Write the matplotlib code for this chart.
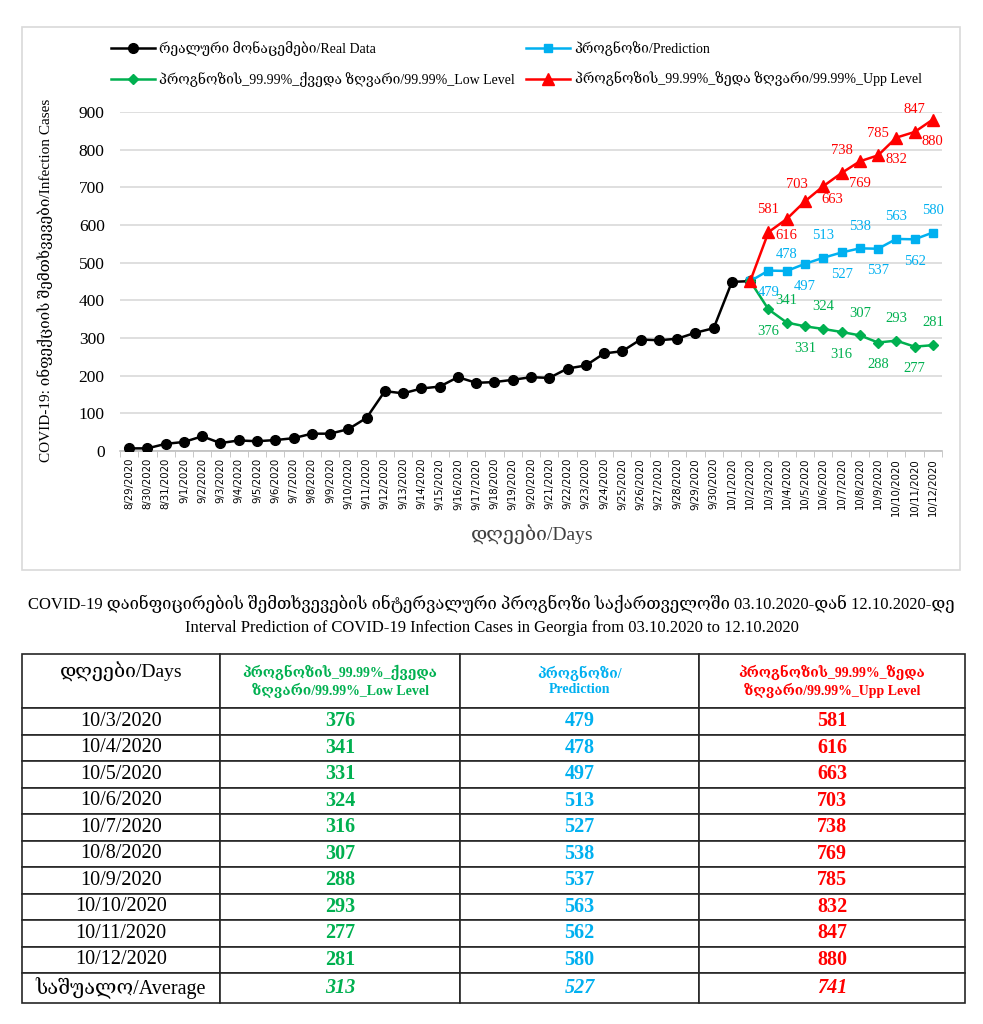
import matplotlib
matplotlib.use("Agg")
import matplotlib.pyplot as plt
from matplotlib.patches import Rectangle
import numpy as np

plt.rcParams["font.family"] = ["Liberation Serif", "DejaVu Serif", "DejaVu Sans"]

# ---- data ----
dates = (["8/29/2020", "8/30/2020", "8/31/2020"]
         + [f"9/{d}/2020" for d in range(1, 31)]
         + [f"10/{d}/2020" for d in range(1, 13)])

real_data = [7, 7, 19, 24, 39, 21, 28, 26, 29, 34, 46, 46, 58, 88, 159, 153, 166,
             171, 196, 181, 183, 189, 196, 194, 219, 227, 259, 265, 296, 294, 298,
             314, 326, 449, 451]

forecast_days = [f"10/{d}/2020" for d in range(3, 13)]
low_level = [376, 341, 331, 324, 316, 307, 288, 293, 277, 281]
prediction = [479, 478, 497, 513, 527, 538, 537, 563, 562, 580]
upp_level = [581, 616, 663, 703, 738, 769, 785, 832, 847, 880]
averages = [313, 527, 741]

label_real = "რეალური მონაცემები/Real Data"
label_pred = "პროგნოზი/Prediction"
label_low = "პროგნოზის_99.99%_ქვედა ზღვარი/99.99%_Low Level"
label_upp = "პროგნოზის_99.99%_ზედა ზღვარი/99.99%_Upp Level"

c_black = "#000000"
c_blue = "#00B0F0"
c_green = "#00B050"
c_red = "#FF0000"

W, H = 983, 1024
fig = plt.figure(figsize=(W / 100, H / 100), dpi=100)

# chart frame
fig.patches.append(Rectangle((22 / W, 1 - 570 / H), 938 / W, 543 / H,
                             transform=fig.transFigure, fill=False,
                             edgecolor="#D9D9D9", linewidth=1.2))

ax = fig.add_axes([120 / W, 1 - 451 / H, 822 / W, 339 / H])

x_all = np.arange(len(dates))
x_real = x_all[:len(real_data)]
x_fc = x_all[len(real_data) - 1:]

ax.plot(x_real, real_data, color=c_black, marker="o", markersize=7, lw=1.8,
        label=label_real, zorder=3)
ax.plot(x_fc, [real_data[-1]] + prediction, color=c_blue, marker="s",
        markersize=6, lw=1.8, label=label_pred, zorder=3)
ax.plot(x_fc, [real_data[-1]] + low_level, color=c_green, marker="D",
        markersize=5, lw=1.8, label=label_low, zorder=3)
ax.plot(x_fc, [real_data[-1]] + upp_level, color=c_red, marker="^",
        markersize=9, lw=1.8, label=label_upp, zorder=4)

# data label placement (offsets in points)
offsets = {"up": (0, 16), "down": (0, -16), "left": (-19, 1), "right": (20, 1),
           "up_s": (0, 12), "down_s": (0, -12)}
green_pos = ["down", "up"] * 5
blue_pos = ["down", "up_s"] + ["down", "up"] * 4
red_pos = ["up", "down_s", "right", "left", "up", "down", "up", "down", "up", "down"]
for vals, col, pos in [(upp_level, c_red, red_pos),
                       (prediction, c_blue, blue_pos),
                       (low_level, c_green, green_pos)]:
    for xi, v, p in zip(x_all[-len(vals):], vals, pos):
        ax.annotate(str(v), (xi, v), xytext=offsets[p], textcoords="offset points",
                    ha="center", va="center", color=col, fontsize=10.5)

ax.set_xlim(-0.5, len(dates) - 0.5)
ax.set_ylim(0, 900)
ax.set_yticks(range(0, 901, 100))
ax.grid(axis="y", color="#D9D9D9", lw=1.2)
ax.set_axisbelow(True)
for s in ["top", "right", "left"]:
    ax.spines[s].set_visible(False)
ax.spines["bottom"].set_color("#BFBFBF")
ax.spines["bottom"].set_linewidth(1.2)
ax.tick_params(axis="y", length=0, pad=11, labelsize=12.5)
ax.set_xticks(x_all)
ax.set_xticklabels(dates, rotation=90, fontsize=7.3, family="DejaVu Sans")
ax.set_xticks(np.arange(-0.5, len(dates), 1), minor=True)
ax.tick_params(axis="x", which="major", length=0, pad=5)
ax.tick_params(axis="x", which="minor", length=4, color="#BFBFBF")

h, l = ax.get_legend_handles_labels()
order = [0, 2, 1, 3]
fig.legend([h[i] for i in order], [l[i] for i in order], ncol=2,
           loc="upper left", bbox_to_anchor=(98 / W, 1 - 29 / H), frameon=False,
           fontsize=10, handlelength=3.2, columnspacing=0.8, labelspacing=1.1,
           handletextpad=0.3)

fig.text(45 / W, 1 - 280 / H, "COVID-19: ინფექციის შემთხვევები/Infection Cases",
         rotation=90, ha="center", va="center", fontsize=11)
fig.text(532 / W, 1 - 534 / H, "დღეები/Days", ha="center", va="center",
         fontsize=14, color="#404040")

# titles
fig.text(0.5, 1 - 604 / H,
         "COVID-19 დაინფიცირების შემთხვევების ინტერვალური პროგნოზი საქართველოში "
         "03.10.2020-დან 12.10.2020-დე",
         ha="center", va="center", fontsize=12)
fig.text(0.5, 1 - 628 / H,
         "Interval Prediction of COVID-19 Infection Cases in Georgia from "
         "03.10.2020 to 12.10.2020",
         ha="center", va="center", fontsize=12)

# ---- table ----
tax = fig.add_axes([22 / W, 1 - 1003 / H, 943 / W, 349 / H])
tax.axis("off")
col_labels = ["დღეები/Days\n",
              "პროგნოზის_99.99%_ქვედა\nზღვარი/99.99%_Low Level",
              "პროგნოზი/\nPrediction",
              "პროგნოზის_99.99%_ზედა\nზღვარი/99.99%_Upp Level"]
rows = [[d, str(a), str(b), str(c)]
        for d, a, b, c in zip(forecast_days, low_level, prediction, upp_level)]
rows.append(["საშუალო/Average"] + [str(v) for v in averages])

tbl = tax.table(cellText=rows, colLabels=col_labels, cellLoc="center",
                colWidths=[198, 240, 239, 266], bbox=[0, 0, 1, 1])
tbl.auto_set_font_size(False)
col_colors = [c_black, c_green, c_blue, c_red]
n_rows = len(rows) + 1
for (r, c), cell in tbl.get_celld().items():
    cell.set_edgecolor("#262626")
    cell.set_linewidth(1.2)
    t = cell.get_text()
    t.set_color(col_colors[c])
    if r == 0:
        cell.set_height(54)
        if c == 0:
            t.set_fontsize(14)
        else:
            t.set_fontsize(10)
            t.set_fontweight("bold")
    else:
        cell.set_height(30 if r == n_rows - 1 else 26.5)
        t.set_fontsize(14.5)
        if c > 0:
            t.set_fontweight("bold")
            if r == n_rows - 1:
                t.set_fontstyle("italic")

fig.savefig("out.png", dpi=100)
